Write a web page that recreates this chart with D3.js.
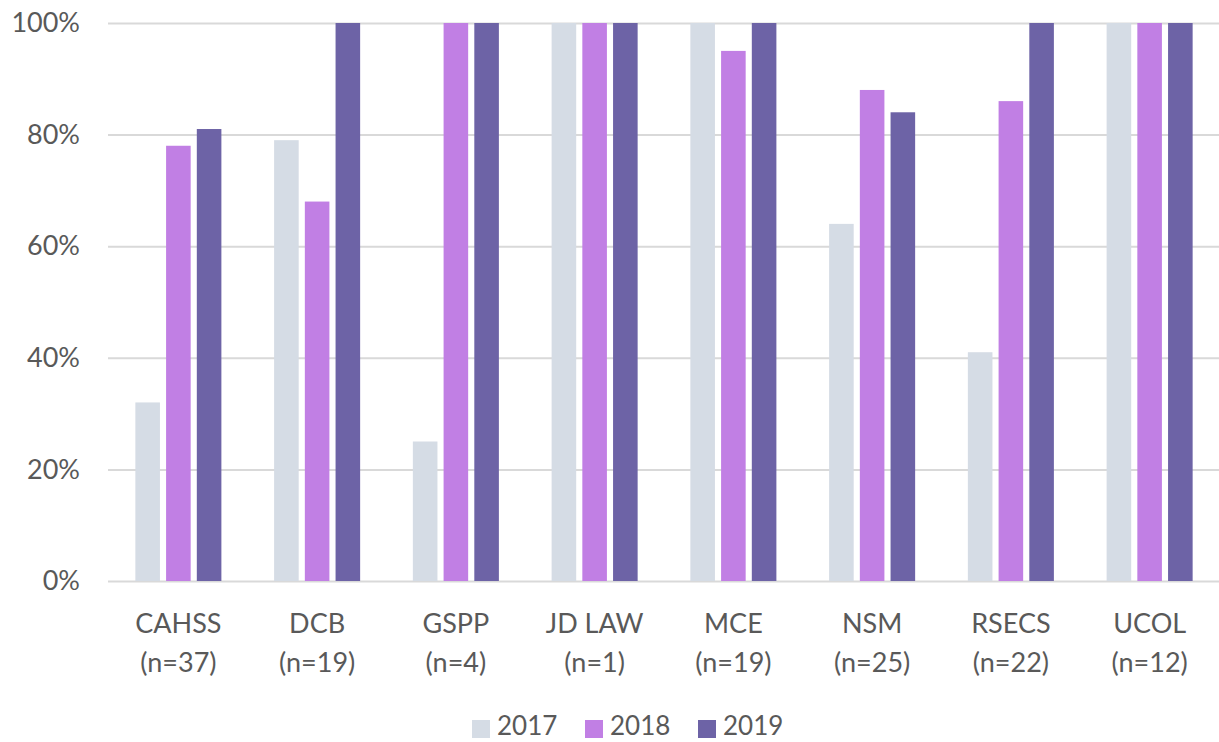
<!DOCTYPE html>
<html>
<head>
<meta charset="utf-8">
<script src="https://cdn.jsdelivr.net/npm/d3@7"></script>
<style>
  html, body { margin: 0; padding: 0; background: #fff; }
  svg { display: block; }
</style>
</head>
<body>
<svg id="chart" width="1219" height="742"></svg>
<script>
// Colleges and their respondent counts
const colleges = ["CAHSS", "DCB", "GSPP", "JD LAW", "MCE", "NSM", "RSECS", "UCOL"];
const counts = ["(n=37)", "(n=19)", "(n=4)", "(n=1)", "(n=19)", "(n=25)", "(n=22)", "(n=12)"];
const years = ["2017", "2018", "2019"];

// Percentage per college, one array per year
const values2017 = [32, 79, 25, 100, 100, 64, 41, 100];
const values2018 = [78, 68, 100, 100, 95, 88, 86, 100];
const values2019 = [81, 100, 100, 100, 100, 84, 100, 100];

const yTicks = [0, 20, 40, 60, 80, 100];
const colors = ["#D5DCE5", "#C17FE4", "#6D63A6"];

const series = [values2017, values2018, values2019];
const rows = colleges.map((c, i) => ({
  college: c,
  count: counts[i],
  vals: years.map((y, j) => ({ year: y, value: series[j][i], color: colors[j] }))
}));

const svg = d3.select("#chart");
const font = "Lato, 'Open Sans', sans-serif";
const textColor = "#595959";

const plot = { left: 108, right: 1219, top: 23, bottom: 581 };

const y = d3.scaleLinear().domain([0, 100]).range([plot.bottom, plot.top]);
const x0 = d3.scaleBand().domain(colleges).range([109, 1219])
  .paddingInner(0.38).paddingOuter(0.19);
const x1 = d3.scaleBand().domain(years).range([0, x0.bandwidth()])
  .paddingInner(0.2).paddingOuter(0);

// Horizontal gridlines and percentage labels
const yAxis = d3.axisLeft(y).tickValues(yTicks).tickFormat(d => d + "%")
  .tickSize(-(plot.right - plot.left)).tickPadding(28);
const gy = svg.append("g").attr("transform", `translate(${plot.left},0)`).call(yAxis);
gy.select(".domain").remove();
gy.selectAll(".tick line").attr("stroke", "#D9D9D9").attr("stroke-width", 2);
gy.selectAll(".tick text")
  .attr("fill", textColor).attr("font-family", font).attr("font-size", 27);

// Grouped bars
const groups = svg.append("g").selectAll("g").data(rows).join("g")
  .attr("transform", d => `translate(${x0(d.college)},0)`);
groups.selectAll("rect").data(d => d.vals).join("rect")
  .attr("x", d => x1(d.year))
  .attr("width", x1.bandwidth())
  .attr("y", d => y(d.value))
  .attr("height", d => y(0) - y(d.value))
  .attr("fill", d => d.color);

// Category labels on two lines
const xAxis = d3.axisBottom(x0).tickSize(0).tickPadding(0);
const gx = svg.append("g").attr("transform", `translate(0,${plot.bottom})`).call(xAxis);
gx.select(".domain").remove();
gx.selectAll(".tick text").each(function(d, i) {
  const t = d3.select(this);
  t.text(null).attr("y", 0).attr("dy", null)
    .attr("fill", textColor).attr("font-family", font).attr("font-size", 27)
    .attr("text-anchor", "middle");
  t.append("tspan").attr("x", 0).attr("y", 52).text(d);
  t.append("tspan").attr("x", 0).attr("y", 91).text(counts[i]);
});

// Legend
const legendItems = [
  { label: "2017", color: colors[0], x: 472 },
  { label: "2018", color: colors[1], x: 585 },
  { label: "2019", color: colors[2], x: 698 }
];
const lg = svg.append("g").selectAll("g").data(legendItems).join("g")
  .attr("transform", d => `translate(${d.x},727)`);
lg.append("rect").attr("x", 0).attr("y", -7).attr("width", 18).attr("height", 18)
  .attr("fill", d => d.color);
lg.append("text").attr("x", 25).attr("y", 8).text(d => d.label)
  .attr("fill", textColor).attr("font-family", font).attr("font-size", 26);
</script>
</body>
</html>
